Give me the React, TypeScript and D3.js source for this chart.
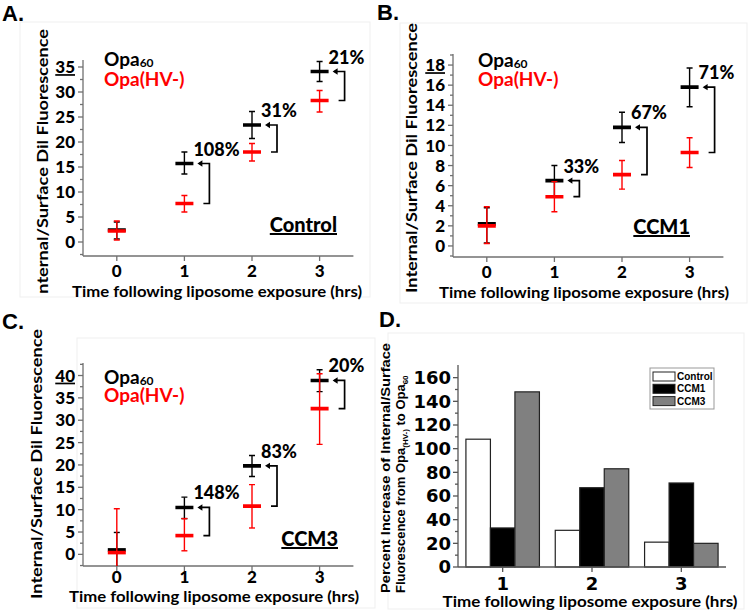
import React from 'react';
import * as d3 from 'd3';

// ---------------- DATA ----------------
const times = [0, 1, 2, 3];

// Panel A (Control)
const ctrlOpa60 = [2.4, 15.7, 23.4, 34.1];
const ctrlOpa60Lo = [0.6, 13.6, 20.7, 32.1];
const ctrlOpa60Hi = [4.0, 18.0, 26.1, 36.1];
const ctrlHV = [2.2, 7.7, 18.0, 28.3];
const ctrlHVLo = [0.4, 6.0, 16.2, 26.0];
const ctrlHVHi = [4.2, 9.3, 19.7, 30.3];

// Panel B (CCM1)
const ccm1Opa60 = [2.2, 6.5, 11.8, 15.8];
const ccm1Opa60Lo = [0.3, 5.0, 10.3, 13.85];
const ccm1Opa60Hi = [3.8, 8.0, 13.3, 17.7];
const ccm1HV = [2.0, 4.9, 7.1, 9.3];
const ccm1HVLo = [0.25, 3.4, 5.65, 7.8];
const ccm1HVHi = [3.9, 6.4, 8.5, 10.76];

// Panel C (CCM3)
const ccm3Opa60 = [1.0, 10.5, 19.8, 38.9];
const ccm3Opa60Lo = [-4, 8.0, 17.4, 36.4];
const ccm3Opa60Hi = [4.9, 12.8, 22.1, 41.3];
const ccm3HV = [0.4, 4.2, 10.8, 32.6];
const ccm3HVLo = [-5, 0.8, 5.9, 24.6];
const ccm3HVHi = [10.2, 8.0, 15.6, 40.4];

// Panel D (percent increase)
const pctTimes = [1, 2, 3];
const pctSeriesNames = ['Control', 'CCM1', 'CCM3'];
const pctControl = [108, 31, 21];
const pctCCM1 = [33, 67, 71];
const pctCCM3 = [148, 83, 20];

// tick labels
const yTicksA = [0, 5, 10, 15, 20, 25, 30, 35];
const yTicksB = [0, 2, 4, 6, 8, 10, 12, 14, 16, 18];
const yTicksC = [0, 5, 10, 15, 20, 25, 30, 35, 40];
const yTicksD = [0, 20, 40, 60, 80, 100, 120, 140, 160];

// ---------------- STYLE ----------------
const CAL = "Lato, 'Open Sans', sans-serif";
const ARIAL = "'Liberation Sans', Arial, sans-serif";
const DJV = "'DejaVu Sans', sans-serif";
const RED = '#ff0000';
const AXIS = '#707070';
const W = 900;

type Layout = {
  id: string;
  letter: string; letterX: number; letterY: number;
  left: number; right: number; top: number; bottom: number;
  yDomain: [number, number]; yStep: number;
  legendX: number; legendY1: number; legendY2: number;
  tag: string; tagX: number; tagY: number;
  yTitleX: number; yTitleY: number;
  xTitleX: number; xTitleY: number; xLabelDy: number;
  clipBottom: number;
  frame: [number, number, number, number];
};

const layoutA: Layout = {
  id: 'A', letter: 'A.', letterX: 2, letterY: 21,
  left: 83, right: 353.4, top: 60, bottom: 256,
  yDomain: [-2.8, 36.4], yStep: 5,
  legendX: 104, legendY1: 66, legendY2: 86,
  tag: 'Control', tagX: 337, tagY: 232,
  yTitleX: 48, yTitleY: 164,
  xTitleX: 217, xTitleY: 297, xLabelDy: 21,
  clipBottom: 294,
  frame: [20, 22, 350, 275],
};
const layoutB: Layout = {
  id: 'B', letter: 'B.', letterX: 377, letterY: 20,
  left: 453, right: 723.4, top: 54, bottom: 257,
  yDomain: [-1.1, 19.1], yStep: 2,
  legendX: 478, legendY1: 67, legendY2: 86,
  tag: 'CCM1', tagX: 690, tagY: 234,
  yTitleX: 417, yTitleY: 158,
  xTitleX: 584, xTitleY: 298, xLabelDy: 21,
  clipBottom: 611,
  frame: [400, 23, 347, 280],
};
const layoutC: Layout = {
  id: 'C', letter: 'C.', letterX: 2, letterY: 329,
  left: 83, right: 353.4, top: 363, bottom: 566,
  yDomain: [-2.6, 42.8], yStep: 5,
  legendX: 104, legendY1: 384, legendY2: 402,
  tag: 'CCM3', tagX: 338, tagY: 546,
  yTitleX: 42, yTitleY: 464,
  xTitleX: 214, xTitleY: 602, xLabelDy: 17,
  clipBottom: 611,
  frame: [77, 338, 298, 270],
};

type Series = { v: number[]; lo: number[]; hi: number[] };

function Marker({ x, y, v, lo, hi, color }: { x: number; y: d3.ScaleLinear<number, number>; v: number; lo: number; hi: number; color: string }) {
  const cap = 3;
  return (
    <g stroke={color} fill="none">
      <line x1={x} x2={x} y1={y(lo)} y2={y(hi)} strokeWidth={1.4} />
      <line x1={x - cap} x2={x + cap} y1={y(lo)} y2={y(lo)} strokeWidth={1.4} />
      <line x1={x - cap} x2={x + cap} y1={y(hi)} y2={y(hi)} strokeWidth={1.4} />
      <line x1={x - 9} x2={x + 9} y1={y(v)} y2={y(v)} strokeWidth={3.6} />
    </g>
  );
}

function ScatterPanel({ L, black, red, pct, yTicks }: { L: Layout; black: Series; red: Series; pct: number[]; yTicks: number[] }) {
  const x = d3.scaleLinear().domain([-0.5, 3.5]).range([L.left, L.right]);
  const y = d3.scaleLinear().domain(L.yDomain).range([L.bottom, L.top]);
  const minor: number[] = [];
  for (let v = Math.ceil(L.yDomain[0] / (L.yStep / 2)) * (L.yStep / 2); v <= L.yDomain[1]; v += L.yStep / 2) {
    if (Math.abs(v / L.yStep - Math.round(v / L.yStep)) > 1e-6) minor.push(v);
  }
  const topTick = yTicks[yTicks.length - 1];
  return (
    <g>
      <defs>
        <clipPath id={'clipPanel' + L.id}>
          <rect x={0} y={0} width={750} height={L.clipBottom} />
        </clipPath>
        <clipPath id={'clipPlot' + L.id}>
          <rect x={L.left} y={L.top - 30} width={L.right - L.left + 60} height={L.bottom - L.top + 30} />
        </clipPath>
      </defs>
      <rect x={L.frame[0]} y={L.frame[1]} width={L.frame[2]} height={L.frame[3]} fill="none" stroke="#efefef" strokeWidth={1} />
      <text x={L.letterX} y={L.letterY} fontFamily={ARIAL} fontWeight="bold" fontSize={22} fill="#000">{L.letter}</text>
      {/* axes */}
      <g stroke={AXIS} strokeWidth={1.3}>
        <line x1={L.left} x2={L.left} y1={L.top} y2={L.bottom} />
        <line x1={L.left} x2={L.right} y1={L.bottom} y2={L.bottom} />
        {yTicks.map((t) => <line key={'yt' + t} x1={L.left - 5} x2={L.left} y1={y(t)} y2={y(t)} />)}
        {minor.map((t) => <line key={'ym' + t} x1={L.left - 3} x2={L.left} y1={y(t)} y2={y(t)} />)}
        {times.map((t) => <line key={'xt' + t} x1={x(t)} x2={x(t)} y1={L.bottom} y2={L.bottom + 5} />)}
      </g>
      {yTicks.map((t) => (
        <text key={'yl' + t} x={L.left - 8} y={y(t)} dy="0.36em" textAnchor="end" fontFamily={CAL} fontWeight={W} fontSize={17}
          style={t === topTick ? { textDecoration: 'underline' } : undefined}>{t}</text>
      ))}
      {times.map((t) => (
        <text key={'xl' + t} x={x(t)} y={L.bottom + L.xLabelDy} textAnchor="middle" fontFamily={CAL} fontWeight={W} fontSize={17}>{t}</text>
      ))}
      {/* titles */}
      <g clipPath={`url(#clipPanel${L.id})`}>
        <text transform={`translate(${L.yTitleX},${L.yTitleY}) rotate(-90)`} textAnchor="middle" fontFamily={CAL} fontWeight="bold" fontSize={16}
          textLength={270} lengthAdjust="spacingAndGlyphs">Internal/Surface Dil Fluorescence</text>
      </g>
      <text x={L.xTitleX} y={L.xTitleY} textAnchor="middle" fontFamily={CAL} fontWeight="bold" fontSize={16}
        textLength={290} lengthAdjust="spacingAndGlyphs">Time following liposome exposure (hrs)</text>
      {/* legend */}
      <text x={L.legendX} y={L.legendY1} fontFamily={CAL} fontWeight="bold" fontSize={19} fill="#000">Opa<tspan fontSize={12} dy={1}>60</tspan></text>
      <text x={L.legendX} y={L.legendY2} fontFamily={CAL} fontWeight="bold" fontSize={19} fill={RED}>Opa(HV-)</text>
      {/* tag */}
      <text x={L.tagX} y={L.tagY} textAnchor="end" fontFamily={CAL} fontWeight={W} fontSize={20} style={{ textDecoration: 'underline' }}>{L.tag}</text>
      {/* markers */}
      <g clipPath={`url(#clipPlot${L.id})`}>
        {times.map((t, i) => (
          <Marker key={'b' + t} x={x(t)} y={y} v={black.v[i]} lo={black.lo[i]} hi={black.hi[i]} color="#000" />
        ))}
        {times.map((t, i) => (
          <Marker key={'r' + t} x={x(t)} y={y} v={red.v[i]} lo={red.lo[i]} hi={red.hi[i]} color={RED} />
        ))}
      </g>
      {/* brackets */}
      {pctTimes.map((t, k) => {
        const i = times.indexOf(t);
        const xd = x(t);
        const yb = y(black.v[i]);
        const yr = y(red.v[i]);
        return (
          <g key={'br' + t}>
            <path d={`M${xd + 15},${yb}H${xd + 25}V${yr}H${xd + 19}`} fill="none" stroke="#000" strokeWidth={1.7} />
            <path d={`M${xd + 13},${yb}L${xd + 18},${yb - 3.2}L${xd + 18},${yb + 3.2}Z`} fill="#000" />
            <text x={xd + 9} y={yb - 8} fontFamily={CAL} fontWeight={W} fontSize={18}>{pct[k]}%</text>
          </g>
        );
      })}
    </g>
  );
}

function BarPanel() {
  const left = 458, right = 726, top = 365, bottom = 567;
  const x = d3.scaleLinear().domain([0.5, 3.5]).range([left, right]);
  const y = d3.scaleLinear().domain([0, 170.7]).range([bottom, top]);
  const bw = 24.5;
  const fills = ['#ffffff', '#000000', '#808080'];
  const seriesVals = [pctControl, pctCCM1, pctCCM3];
  const minor = d3.range(10, 170, 20);
  return (
    <g>
      <rect x={388} y={333} width={356} height={276} fill="none" stroke="#efefef" strokeWidth={1} />
      <text x={379} y={327} fontFamily={ARIAL} fontWeight="bold" fontSize={22}>D.</text>
      {seriesVals.map((vals, s) => (
        <g key={'s' + s}>
          {pctTimes.map((t, i) => (
            <rect key={t} x={x(t) + (s - 1) * bw - bw / 2} width={bw} y={y(vals[i])} height={y(0) - y(vals[i])}
              fill={fills[s]} stroke="#222" strokeWidth={1.2} />
          ))}
        </g>
      ))}
      <g stroke="#555" strokeWidth={1.3}>
        <line x1={left} x2={left} y1={top} y2={bottom} />
        <line x1={left} x2={right} y1={bottom} y2={bottom} />
        {yTicksD.map((t) => <line key={'t' + t} x1={left - 5} x2={left} y1={y(t)} y2={y(t)} />)}
        {minor.map((t) => <line key={'m' + t} x1={left - 3} x2={left} y1={y(t)} y2={y(t)} />)}
        {pctTimes.map((t) => <line key={'x' + t} x1={x(t)} x2={x(t)} y1={bottom} y2={bottom + 5} />)}
      </g>
      {yTicksD.map((t) => (
        <text key={'l' + t} x={left - 7} y={y(t)} dy="0.36em" textAnchor="end" fontFamily={DJV} fontWeight="bold" fontSize={18}>{t}</text>
      ))}
      {pctTimes.map((t) => (
        <text key={'xl' + t} x={x(t)} y={590} textAnchor="middle" fontFamily={DJV} fontWeight="bold" fontSize={18}>{t}</text>
      ))}
      <text x={590} y={607} textAnchor="middle" fontFamily={CAL} fontWeight="bold" fontSize={16}
        textLength={295} lengthAdjust="spacingAndGlyphs">Time following liposome exposure (hrs)</text>
      {/* y title */}
      <text transform="translate(390,593) rotate(-90)" fontFamily={ARIAL} fontWeight="bold" fontSize={13}
        textLength={250} lengthAdjust="spacingAndGlyphs">Percent Increase of Internal/Surface</text>
      <text transform="translate(405,593) rotate(-90)" fontFamily={ARIAL} fontWeight="bold" fontSize={13}>
        Fluorescence from Opa<tspan fontSize={8} dy={3}>(HV-)</tspan><tspan dy={-3}> to Opa</tspan><tspan fontSize={8} dy={3}>60</tspan>
      </text>
      {/* legend */}
      <rect x={650} y={368} width={64} height={41} fill="#fff" stroke="#999" strokeWidth={1} />
      {pctSeriesNames.map((n, s) => (
        <g key={n}>
          <rect x={653} y={372 + s * 12.3} width={22} height={9} fill={fills[s]} stroke="#222" strokeWidth={1} />
          <text x={677} y={380 + s * 12.3} fontFamily={ARIAL} fontWeight="bold" fontSize={10}>{n}</text>
        </g>
      ))}
    </g>
  );
}

export default function App() {
  return (
    <svg width={750} height={611} style={{ position: 'absolute', left: 0, top: 0, background: '#fff' }}>
      <rect x={0} y={0} width={750} height={611} fill="#fff" />
      <ScatterPanel L={layoutA}
        black={{ v: ctrlOpa60, lo: ctrlOpa60Lo, hi: ctrlOpa60Hi }}
        red={{ v: ctrlHV, lo: ctrlHVLo, hi: ctrlHVHi }}
        pct={pctControl} yTicks={yTicksA} />
      <ScatterPanel L={layoutB}
        black={{ v: ccm1Opa60, lo: ccm1Opa60Lo, hi: ccm1Opa60Hi }}
        red={{ v: ccm1HV, lo: ccm1HVLo, hi: ccm1HVHi }}
        pct={pctCCM1} yTicks={yTicksB} />
      <ScatterPanel L={layoutC}
        black={{ v: ccm3Opa60, lo: ccm3Opa60Lo, hi: ccm3Opa60Hi }}
        red={{ v: ccm3HV, lo: ccm3HVLo, hi: ccm3HVHi }}
        pct={pctCCM3} yTicks={yTicksC} />
      <BarPanel />
    </svg>
  );
}
